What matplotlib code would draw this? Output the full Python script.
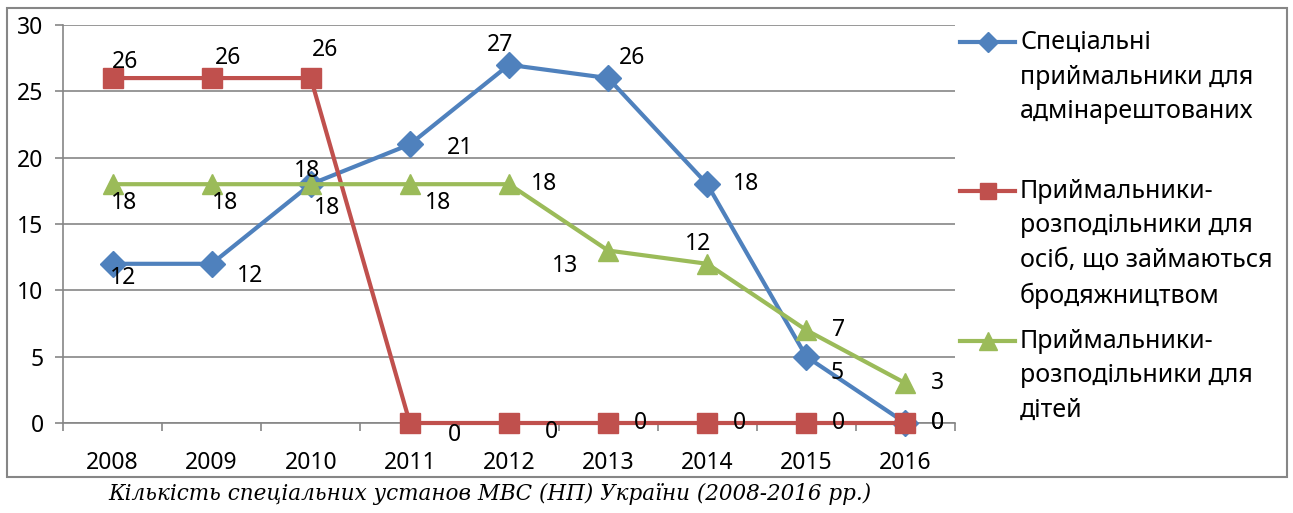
import numpy as np
import matplotlib
matplotlib.use("Agg")
import matplotlib.pyplot as plt
from matplotlib.lines import Line2D
from matplotlib.patches import Rectangle

years = ["2008", "2009", "2010", "2011", "2012", "2013", "2014", "2015", "2016"]
special = [12, 12, 18, 21, 27, 26, 18, 5, 0]
vagrants = [26, 26, 26, 0, 0, 0, 0, 0, 0]
children = [18, 18, 18, 18, 18, 13, 12, 7, 3]

names = ["Спеціальні\nприймальники для\nадмінарештованих",
         "Приймальники-\nрозподільники для\nосіб, що займаються\nбродяжництвом",
         "Приймальники-\nрозподільники для\nдітей"]
caption = "Кількість спеціальних установ МВС (НП) України (2008-2016 рр.)"

# label offsets in pixels (dx, dy)
off_special = [(11, -14), (38, -12), (-4, 13), (50, -4), (-9, 20), (24, 20), (39, 0), (31, -16), (32, 0)]
off_vagr = [(13, 16), (16, 20), (14, 28), (45, -12), (42, -9), (32, 0), (32, 0), (32, 0), (32, 0)]
off_child = [(11, -19), (13, -19), (16, -24), (28, -19), (35, 0), (-43, -15), (-9, 20), (32, 0), (32, 0)]

plt.rcParams['font.family'] = ['Noto Sans', 'DejaVu Sans']
blue, red, green = '#4F81BD', '#C0504D', '#9BBB59'
grid = '#868686'
fs = 16.5
lfs = 18

fig = plt.figure(figsize=(12.93, 5.13), dpi=100)
ax = fig.add_axes([63/1293, 90/513, 892/1293, 398/513])

x = np.arange(len(years))
series = [(special, blue, 'D', 13, off_special),
          (vagrants, red, 's', 14, off_vagr),
          (children, green, '^', 15, off_child)]
for vals, col, mk, ms, offs in series:
    ax.plot(x, vals, color=col, lw=3, marker=mk, ms=ms, clip_on=False, zorder=3)
for vals, col, mk, ms, offs in series:
    for xi, v, (dx, dy) in zip(x, vals, offs):
        ax.annotate(str(v), (xi, v), xytext=(dx, dy), textcoords='offset pixels',
                    ha='center', va='center', fontsize=fs, zorder=5)

ax.set_xlim(-0.5, len(years) - 0.5)
ax.set_ylim(0, 30)
ax.set_yticks(range(0, 31, 5))
ax.yaxis.grid(True, color=grid, lw=1.2)
ax.set_axisbelow(True)
ax.set_xticks(np.arange(-0.5, len(years), 1))
ax.set_xticklabels([])
ax.set_xticks(x, minor=True)
ax.set_xticklabels(years, minor=True)
ax.tick_params(axis='x', which='major', length=6, color=grid, width=1.2)
ax.tick_params(axis='x', which='minor', length=0, pad=20, labelsize=fs)
ax.tick_params(axis='y', length=6, color=grid, width=1.2, pad=8, labelsize=fs)
for s in ['top', 'right']:
    ax.spines[s].set_visible(False)
for s in ['left', 'bottom']:
    ax.spines[s].set_color(grid)
    ax.spines[s].set_linewidth(1.2)

# manual legend
W, H = 1293, 513
leg_y = [42, 191, 341]
leg_ms = [10, 12, 13]
for (vals, col, mk, ms, offs), name, yy, lms in zip(series, names, leg_y, leg_ms):
    fy = 1 - yy / H
    fig.add_artist(Line2D([960 / W, 1015 / W], [fy, fy], color=col, lw=3))
    fig.add_artist(Line2D([987.5 / W], [fy], color=col, marker=mk, ms=lms))
    fig.text(1020 / W, 1 - (yy - 12) / H, name, ha='left', va='top', fontsize=lfs,
             linespacing=1.5)

fig.add_artist(Rectangle((7 / W, 1 - 477 / H), 1280 / W, 469 / H, transform=fig.transFigure,
                         fill=False, ec=grid, lw=1.5))
fig.text(490 / W, 1 - 494 / H, caption, ha='center', va='center', fontsize=15.5,
         family='DejaVu Serif', style='italic')

fig.savefig('out.png', dpi=100)
